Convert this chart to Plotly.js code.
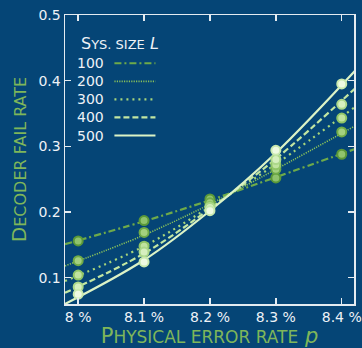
<!DOCTYPE html>
<html>
<head>
<meta charset="utf-8">
<script src="https://cdn.plot.ly/plotly-3.0.1.min.js"></script>
<style>
html,body{margin:0;padding:0;background:#054576;}
#chart{width:362px;height:348px;}
</style>
</head>
<body>
<div id="chart"></div>
<script>
// ---- data ----
const sizes = ['100', '200', '300', '400', '500'];
const pMeasured = [8.0, 8.1, 8.2, 8.3, 8.4];
const fail100 = [0.156, 0.187, 0.220, 0.252, 0.288];
const fail200 = [0.126, 0.169, 0.214, 0.265, 0.322];
const fail300 = [0.104, 0.148, 0.209, 0.272, 0.343];
const fail400 = [0.086, 0.139, 0.207, 0.280, 0.364];
const fail500 = [0.075, 0.124, 0.202, 0.294, 0.395];

// fitted curves
const pFit = [7.98, 8.1, 8.2, 8.3, 8.42];
const fit100 = [0.151, 0.186, 0.218, 0.253, 0.296];
const fit200 = [0.118, 0.165, 0.212, 0.265, 0.331];
const fit300 = [0.095, 0.148, 0.208, 0.273, 0.360];
const fit400 = [0.077, 0.137, 0.205, 0.281, 0.388];
const fit500 = [0.060, 0.127, 0.202, 0.290, 0.415];

const xTickVals = [8.0, 8.1, 8.2, 8.3, 8.4];
const xTickText = ['8 %', '8.1 %', '8.2 %', '8.3 %', '8.4 %'];
const yTickVals = [0.1, 0.2, 0.3, 0.4, 0.5];

// ---- styles ----
const lineColors = ['#6eaa4a', '#86bf5c', '#a6d57c', '#c2e6a2', '#dcf3c6'];
const ringColors = ['#5a9838', '#70ab48', '#90c566', '#acd88a', '#c9e9ae'];
const fillColors = ['#8fc36c', '#a3d07f', '#c0e39f', '#d6efbf', '#eefae2'];
const dashes = ['7px,3px,2px,3px', '1.2px,1.2px', '2px,4px', '6px,3px', 'solid'];
const widths = [2.2, 1.6, 2.2, 2.2, 2.2];

const fits = [fit100, fit200, fit300, fit400, fit500];
const fails = [fail100, fail200, fail300, fail400, fail500];

const traces = [];
for (let i = 0; i < sizes.length; i++) {
  traces.push({
    x: pFit, y: fits[i], mode: 'lines', type: 'scatter',
    line: {color: lineColors[i], width: widths[i], dash: dashes[i], shape: 'spline', smoothing: 1},
    showlegend: false, hoverinfo: 'skip', cliponaxis: true
  });
}
for (let i = 0; i < sizes.length; i++) {
  traces.push({
    x: pMeasured, y: fails[i], mode: 'markers', type: 'scatter',
    marker: {size: 9, color: fillColors[i], line: {color: ringColors[i], width: 2}},
    showlegend: false, cliponaxis: false
  });
}

// custom legend (label left, line sample right)
const legY0 = 0.833, legDy = 0.0625;
const annotations = [{
  xref: 'paper', yref: 'paper', x: 0.048, y: 0.903, xanchor: 'left', yanchor: 'middle',
  showarrow: false,
  text: "S<span style='font-size:13px'>YS. SIZE</span> <i>L</i>",
  font: {family: 'DejaVu Sans', size: 16, color: '#eef2f6'}
}];
const shapes = [];
for (let i = 0; i < sizes.length; i++) {
  const yy = legY0 - i * legDy;
  annotations.push({
    xref: 'paper', yref: 'paper', x: 0.036, y: yy, xanchor: 'left', yanchor: 'middle',
    showarrow: false, text: sizes[i],
    font: {family: 'DejaVu Sans', size: 14, color: '#eef2f6'}
  });
  shapes.push({
    type: 'line', xref: 'paper', yref: 'paper', x0: 0.171, x1: 0.313, y0: yy, y1: yy,
    line: {color: lineColors[i], width: widths[i], dash: dashes[i]}
  });
}

const axisCommon = {
  showline: true, linecolor: '#e4ebf1', linewidth: 1.5, mirror: 'ticks',
  ticks: 'inside', ticklen: 6, tickcolor: '#e4ebf1', tickwidth: 1.5,
  showgrid: false, zeroline: false,
  tickfont: {family: 'DejaVu Sans', size: 14, color: '#eef2f6'}
};

const layout = {
  width: 362, height: 348,
  margin: {l: 64.5, r: 8, t: 14.5, b: 44, pad: 0},
  paper_bgcolor: '#054576', plot_bgcolor: '#054576',
  showlegend: false,
  xaxis: Object.assign({}, axisCommon, {
    range: [7.98, 8.4186], tickvals: xTickVals, ticktext: xTickText,
    title: {text: "P<span style='font-size:17px'>HYSICAL ERROR RATE</span> <i>p</i>",
            font: {family: 'DejaVu Sans', size: 21, color: '#7fb65a'}, standoff: 4}
  }),
  yaxis: Object.assign({}, axisCommon, {
    range: [0.06, 0.5], tickvals: yTickVals, tickformat: '.1f',
    title: {text: "D<span style='font-size:16px'>ECODER FAIL RATE</span>",
            font: {family: 'DejaVu Sans', size: 20, color: '#7fb65a'}, standoff: 6}
  }),
  annotations: annotations,
  shapes: shapes
};

Plotly.newPlot('chart', traces, layout, {staticPlot: true, displayModeBar: false});
</script>
</body>
</html>
